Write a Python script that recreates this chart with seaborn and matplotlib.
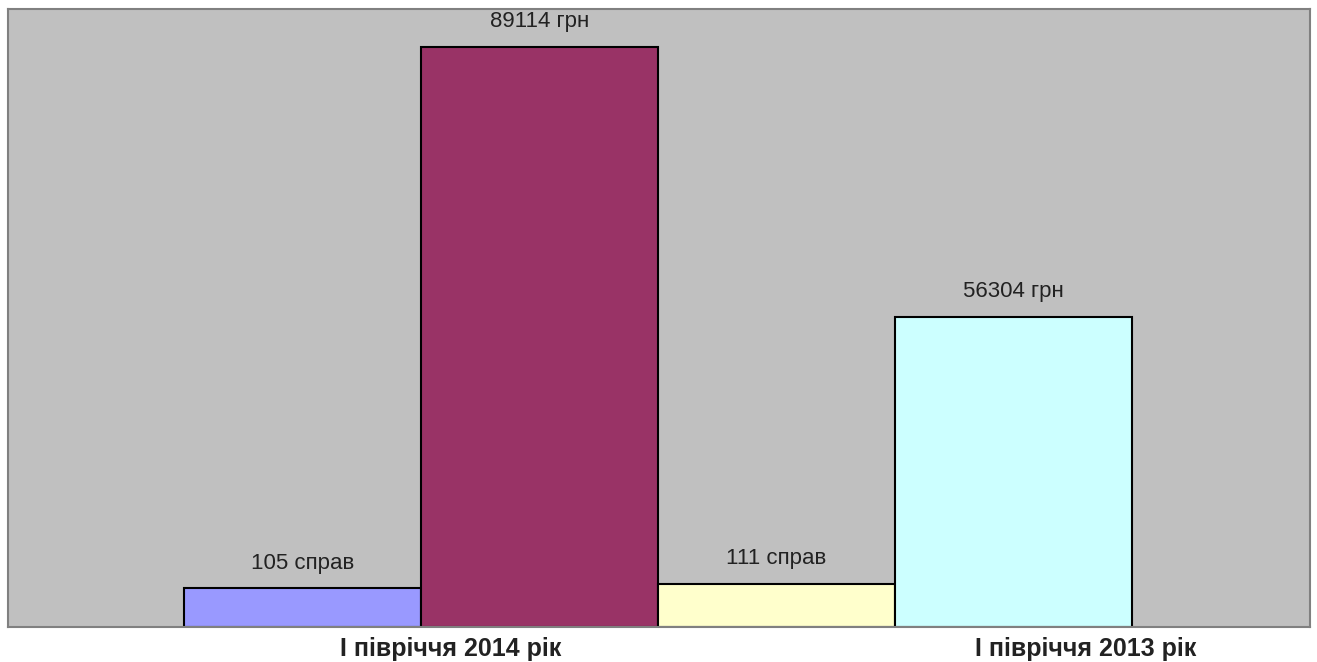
import pandas as pd
import seaborn as sns
import matplotlib.pyplot as plt

# Дані, зчитані з діаграми (висоти стовпців у масштабі осі, підписи як на малюнку)
bar_names = ["2014 справи", "2014 грн", "2013 справи", "2013 грн"]
bar_heights = [5990, 89114, 6610, 47630]
bar_labels = ["105 справ", "89114 грн", "111 справ", "56304 грн"]
bar_colors = ["#9999FF", "#993366", "#FFFFCC", "#CCFFFF"]
period_labels = ["І півріччя 2014 рік", "І півріччя 2013 рік"]

df = pd.DataFrame({"bar": bar_names, "value": bar_heights})

sns.set_style("white")
plt.rcParams["font.family"] = ["Liberation Sans", "DejaVu Sans"]

fig = plt.figure(figsize=(13.17, 6.62), dpi=100)
ax = fig.add_axes([8 / 1317, 35 / 662, 1302 / 1317, 618 / 662])

sns.barplot(
    data=df, x="bar", y="value", hue="bar",
    palette=bar_colors, saturation=1, width=1.0,
    edgecolor="black", linewidth=1.5,
    legend=False, ax=ax,
)

ax.set_facecolor("#C0C0C0")
ax.set_xlim(-1.243, 4.251)
ax.set_ylim(0, 94950)

# підписи значень над стовпцями
for p, txt in zip(ax.patches, bar_labels):
    ax.annotate(txt, (p.get_x() + p.get_width() / 2, p.get_height()),
                xytext=(0, 18), textcoords="offset points",
                ha="center", va="center", fontsize=16, color="#222222")

ax.set_xticks([0.627, 3.306])
ax.set_xticklabels(period_labels, fontsize=18, fontweight="bold", color="#222222")
ax.tick_params(axis="x", length=0, pad=7)
ax.set_yticks([])
ax.set_xlabel("")
ax.set_ylabel("")

for s in ax.spines.values():
    s.set_visible(True)
    s.set_color("#808080")
    s.set_linewidth(1.5)

fig.savefig("out.png", dpi=100)
